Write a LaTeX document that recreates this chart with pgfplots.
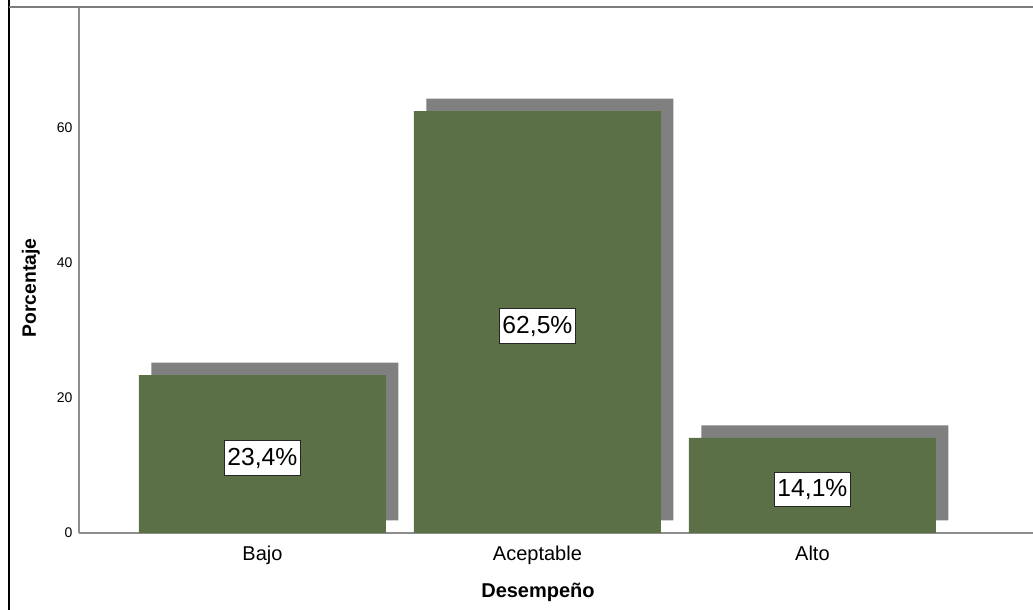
\documentclass[border=0pt]{standalone}
\usepackage{pgfplots}
\usepackage{pgfplotstable}
\pgfplotsset{compat=1.18}
\usepackage{fontspec}
\setmainfont{Liberation Sans}

\definecolor{barfill}{RGB}{92,112,72}
\definecolor{shadowgray}{RGB}{128,128,128}
\definecolor{axisgray}{RGB}{140,140,140}
\definecolor{framegray}{RGB}{125,125,125}

% Porcentaje por nivel de desempeño
\pgfplotstableread{
x pct
0 23.4
1 62.5
2 14.1
}\desempeno

\begin{document}
\begin{tikzpicture}
\useasboundingbox (-59.25pt,-57.75pt) rectangle (715.5pt,399.75pt);
\begin{axis}[
  at={(0pt,0pt)}, anchor=south west,
  scale only axis, width=715.5pt, height=394.5pt,
  xmin=-0.667, xmax=2.802, ymin=0, ymax=77.93,
  axis x line=bottom, axis y line=left,
  axis line style={-, draw=axisgray, line width=1.1pt},
  xtick={0,1,2}, xticklabels={Bajo,Aceptable,Alto},
  ytick={0,20,40,60},
  major tick length=0pt, tick style={draw=none},
  yticklabel style={font=\fontsize{10.5}{12}\selectfont, inner sep=0pt, xshift=-4.7pt},
  xticklabel style={font=\fontsize{15}{18}\selectfont, anchor=base, inner sep=0pt, yshift=-21pt},
  /pgf/number format/assume math mode=true,
]
% sombra desplazada detrás de cada barra
\addplot[ybar, bar width=185.25pt, bar shift=9.4pt, yshift=9.4pt,
  fill=shadowgray, draw=none] table[x=x, y=pct]{\desempeno};
% barras principales
\addplot[ybar, bar width=185.25pt, bar shift=0pt,
  fill=barfill, draw=none] table[x=x, y=pct]{\desempeno};
% etiquetas de porcentaje en el centro de cada barra
\addplot[draw=none, mark=none, point meta=explicit,
  nodes near coords={\pgfmathprintnumber[use comma, fixed, fixed zerofill, precision=1]{\pgfplotspointmeta}\%},
  nodes near coords style={anchor=center, font=\fontsize{18.5}{20}\selectfont,
    fill=white, draw=black!85, line width=0.8pt, inner xsep=2.2pt, inner ysep=0pt,
    minimum height=26pt, yshift=-3pt}]
  table[x=x, y expr=\thisrow{pct}/2, meta=pct]{\desempeno};
\end{axis}
% marco exterior
\draw[black, line width=0.8pt] (-52.5pt,-57.75pt) -- (-52.5pt,399.75pt);
\draw[framegray, line width=1.5pt] (-52.5pt,394.65pt) -- (715.5pt,394.65pt);
% títulos de los ejes
\node[rotate=90, font=\bfseries\fontsize{14.5}{16}\selectfont] at (-36pt,183.75pt) {Porcentaje};
\node[anchor=base, font=\bfseries\fontsize{15}{16}\selectfont] at (344.25pt,-48.75pt) {Desempeño};
\end{tikzpicture}
\end{document}
